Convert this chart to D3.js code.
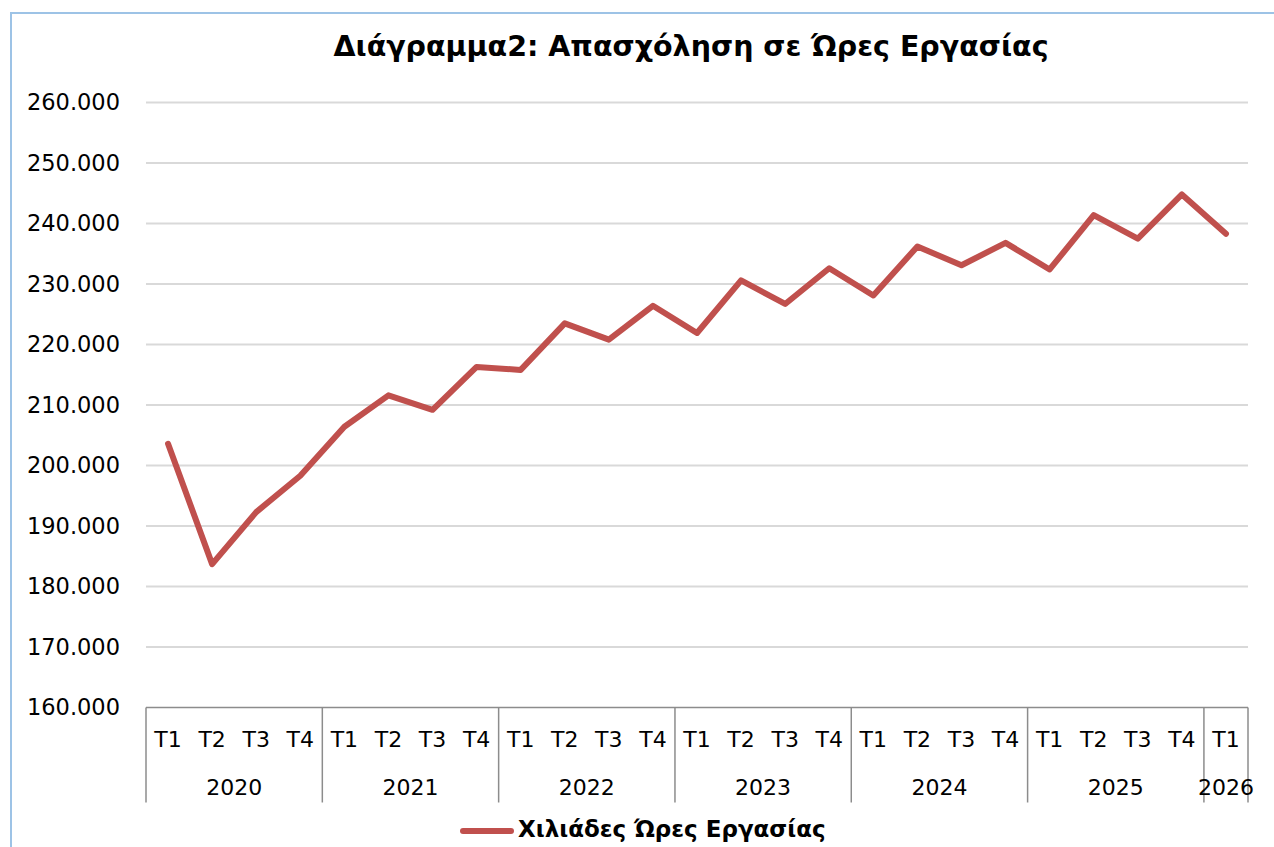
<!DOCTYPE html>
<html>
<head>
<meta charset="utf-8">
<script src="https://cdn.jsdelivr.net/npm/d3@7"></script>
<style>
    body { margin: 0; background: #fff; }
    svg { display: block; font-family: "DejaVu Sans", Verdana, sans-serif; }
    .grid line { stroke: #d9d9d9; stroke-width: 2; }
    .axis-line { stroke: #8c8c8c; stroke-width: 1.5; fill: none; }
</style>
</head>
<body>
<div id="chart"></div>
<script>
// chart values
const years = ["2020", "2021", "2022", "2023", "2024", "2025", "2026"];
const quarters = ["T1", "T2", "T3", "T4"];
const yearQuarters = [4, 4, 4, 4, 4, 4, 1];
const hours = [
    203600, 183700, 192300, 198300,
    206400, 211600, 209200, 216300,
    215800, 223500, 220800, 226400,
    221900, 230600, 226700, 232600,
    228100, 236200, 233100, 236800,
    232400, 241400, 237500, 244800,
    238300
];
const yTicks = [160000, 170000, 180000, 190000, 200000, 210000, 220000, 230000, 240000, 250000, 260000];
const titleText = "Διάγραμμα2: Απασχόληση σε Ώρες Εργασίας";
const seriesName = "Χιλιάδες Ώρες Εργασίας";

/** Class representing the line chart. */
class LineChart {

    constructor() {
        this.width = 1274;
        this.height = 847;
        this.margin = {left: 146, right: 1248, top: 102.5, bottom: 707.5};
    }

    drawChart() {
        let that = this;

        let svg = d3.select("#chart").append("svg")
            .attr("width", this.width)
            .attr("height", this.height);

        // category list built from the years and quarters
        let cats = [];
        years.forEach(function (y, i) {
            for (let q = 0; q < yearQuarters[i]; q++) {
                cats.push(y + "-" + quarters[q]);
            }
        });

        let x = d3.scaleBand().domain(cats).range([this.margin.left, this.margin.right]);
        let y = d3.scaleLinear().domain([160000, 260000]).range([this.margin.bottom, this.margin.top]);

        // frame (only left and top edges show)
        svg.append("path")
            .attr("d", "M11,847 L11,13 L1274,13")
            .attr("fill", "none")
            .attr("stroke", "#9dc3e6")
            .attr("stroke-width", 2);

        // title
        svg.append("text")
            .attr("x", 691)
            .attr("y", 56)
            .attr("text-anchor", "middle")
            .style("font-weight", "bold")
            .style("font-size", "28.5px")
            .attr("fill", "#000")
            .text(titleText);

        // gridlines
        svg.append("g").attr("class", "grid")
            .selectAll("line")
            .data(yTicks.slice(1))
            .enter().append("line")
            .attr("x1", this.margin.left)
            .attr("x2", this.margin.right)
            .attr("y1", d => y(d))
            .attr("y2", d => y(d));

        // y axis labels
        let fmt = d3.formatLocale({decimal: ",", thousands: ".", grouping: [3], currency: ["", "€"]}).format(",.0f");
        let yAxis = d3.axisLeft(y).tickValues(yTicks).tickSize(0).tickPadding(26).tickFormat(fmt);
        let yG = svg.append("g")
            .attr("transform", "translate(" + this.margin.left + ",0)")
            .call(yAxis);
        yG.select(".domain").remove();
        yG.selectAll("text")
            .style("font-size", "22.5px")
            .style("font-family", "DejaVu Sans, Verdana, sans-serif")
            .attr("fill", "#000");

        // x axis: horizontal line
        svg.append("line")
            .attr("class", "axis-line")
            .attr("x1", this.margin.left)
            .attr("x2", this.margin.right)
            .attr("y1", y(160000))
            .attr("y2", y(160000));

        // quarter labels
        let xAxis = d3.axisBottom(x).tickSize(0).tickPadding(0).tickFormat(d => d.split("-")[1]);
        let xG = svg.append("g")
            .attr("transform", "translate(0," + y(160000) + ")")
            .call(xAxis);
        xG.select(".domain").remove();
        xG.selectAll("text")
            .attr("y", 32)
            .attr("dy", "0.35em")
            .style("font-size", "22px")
            .style("font-family", "DejaVu Sans, Verdana, sans-serif")
            .attr("fill", "#000");

        // year groups: separators and labels
        let groups = [];
        let start = 0;
        years.forEach(function (yr, i) {
            groups.push({year: yr, first: cats[start], last: cats[start + yearQuarters[i] - 1]});
            start += yearQuarters[i];
        });

        let sepX = groups.map(g => x(g.first));
        sepX.push(this.margin.right);
        svg.selectAll(".sep")
            .data(sepX)
            .enter().append("line")
            .attr("class", "axis-line sep")
            .attr("x1", d => d)
            .attr("x2", d => d)
            .attr("y1", y(160000))
            .attr("y2", y(160000) + 95);

        svg.selectAll(".year")
            .data(groups)
            .enter().append("text")
            .attr("class", "year")
            .attr("x", d => (x(d.first) + x(d.last) + x.bandwidth()) / 2)
            .attr("y", y(160000) + 80)
            .attr("dy", "0.35em")
            .attr("text-anchor", "middle")
            .style("font-size", "22px")
            .attr("fill", "#000")
            .text(d => d.year);

        // the series line
        let line = d3.line()
            .x((d, i) => x(cats[i]) + x.bandwidth() / 2)
            .y(d => y(d));

        svg.append("path")
            .datum(hours)
            .attr("d", line)
            .attr("fill", "none")
            .attr("stroke", "#c0504d")
            .attr("stroke-width", 6)
            .attr("stroke-linejoin", "round")
            .attr("stroke-linecap", "round");

        // legend
        let legend = svg.append("g").attr("transform", "translate(460,831)");
        legend.append("line")
            .attr("x1", 3).attr("x2", 51)
            .attr("y1", 0).attr("y2", 0)
            .attr("stroke", "#c0504d")
            .attr("stroke-width", 6)
            .attr("stroke-linecap", "round");
        legend.append("text")
            .attr("x", 58)
            .attr("y", 6)
            .style("font-weight", "bold")
            .style("font-size", "23px")
            .attr("fill", "#000")
            .text(seriesName);
    }
}

let chart = new LineChart();
chart.drawChart();
</script>
</body>
</html>
